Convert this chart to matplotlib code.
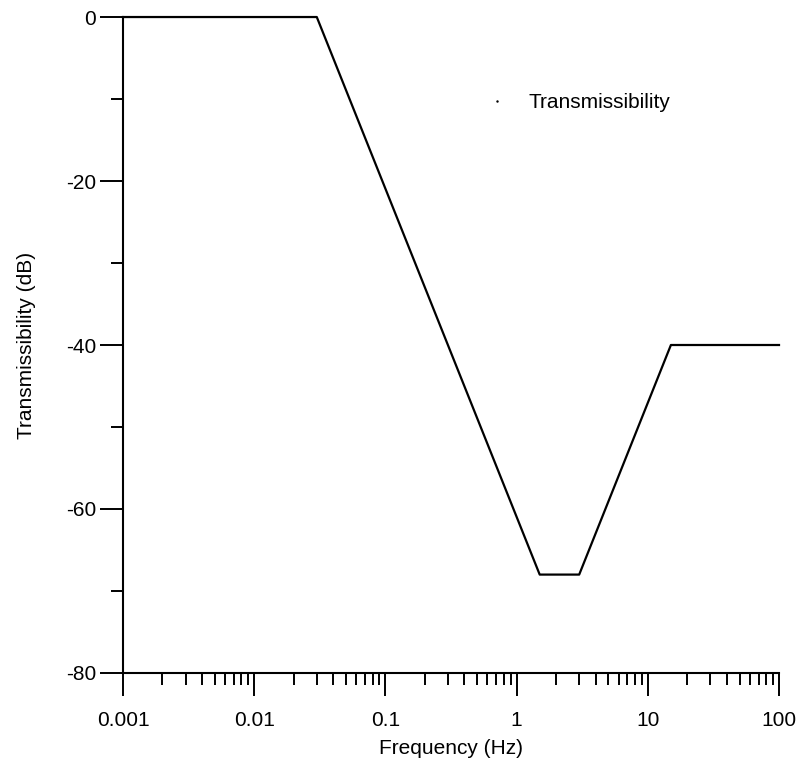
import matplotlib
matplotlib.use("Agg")
import matplotlib.pyplot as plt
from matplotlib.lines import Line2D
from matplotlib.ticker import FixedLocator, LogLocator, NullFormatter

# piecewise transmissibility curve (frequency in Hz, level in dB)
freq = [0.001, 0.03, 1.5, 3.0, 15.0, 100.0]
trans_db = [0, 0, -68, -68, -40, -40]

x_ticks = [0.001, 0.01, 0.1, 1, 10, 100]
x_tick_labels = ["0.001", "0.01", "0.1", "1", "10", "100"]
y_ticks = [0, -20, -40, -60, -80]
y_minor = [-10, -30, -50, -70]

plt.rcParams["font.family"] = ["Liberation Sans", "DejaVu Sans"]
FS = 15

fig = plt.figure(figsize=(7.98, 7.6), dpi=100)
ax = fig.add_axes([0.1541, 0.1145, 0.8221, 0.8631])

ax.plot(freq, trans_db, color="black", lw=1.6, clip_on=False)

ax.set_xscale("log")
ax.set_xlim(0.001, 100)
ax.set_ylim(-80, 0)

ax.set_xticks(x_ticks)
ax.set_xticklabels(x_tick_labels)
ax.xaxis.set_minor_locator(LogLocator(base=10, subs=range(2, 10)))
ax.xaxis.set_minor_formatter(NullFormatter())
ax.set_yticks(y_ticks)
ax.set_yticklabels([str(v) for v in y_ticks])
ax.yaxis.set_minor_locator(FixedLocator(y_minor))

ax.tick_params(which="major", direction="out", length=16.5, width=1.4,
               labelsize=FS, pad=3)
ax.tick_params(which="minor", direction="out", length=8.5, width=1.4)
ax.tick_params(axis="x", which="major", pad=11)

for side in ["top", "right"]:
    ax.spines[side].set_visible(False)
for side in ["left", "bottom"]:
    ax.spines[side].set_linewidth(1.5)

ax.set_xlabel("Frequency (Hz)", fontsize=FS, labelpad=6)
ax.set_ylabel("Transmissibility (dB)", fontsize=FS, labelpad=21)

handle = Line2D([], [], color="black", marker=".", markersize=1.5, linestyle="none")
fig.legend([handle], ["Transmissibility"], loc="center left",
           bbox_to_anchor=(466 / 798, 1 - 103 / 760), frameon=False,
           fontsize=FS, handlelength=1.2, handletextpad=0.9)

fig.savefig("out.png", dpi=100)
